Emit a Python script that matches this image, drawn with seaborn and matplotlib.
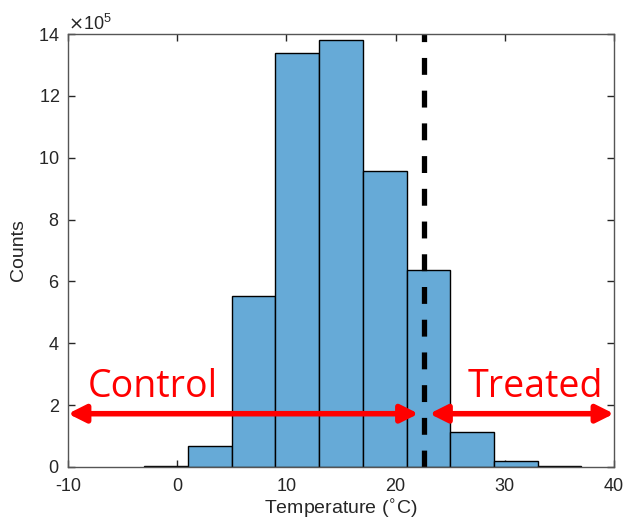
import numpy as np
import matplotlib.pyplot as plt
import seaborn as sns
from matplotlib.ticker import ScalarFormatter

# Histogram (bin edges in deg C, counts per bin)
bin_edges = [-3, 1, 5, 9, 13, 17, 21, 25, 29, 33, 37]
bin_counts = [2e3, 0.66e5, 5.53e5, 13.4e5, 13.8e5, 9.58e5, 6.36e5, 1.12e5, 0.19e5, 0.03e5]
threshold = 22.6
control_span = [-10, 22.1]
treated_span = [23.1, 40]
arrow_y = 1.72e5

bin_centers = [(a + b) / 2 for a, b in zip(bin_edges[:-1], bin_edges[1:])]

sns.set_style("white")
plt.rcParams['font.family'] = ['Liberation Sans', 'DejaVu Sans']
plt.rcParams['axes.unicode_minus'] = False

fig = plt.figure(figsize=(6.26, 5.24), dpi=100)
ax = fig.add_axes([0.1086, 0.109, 0.8722, 0.826])

sns.histplot(x=bin_centers, weights=bin_counts, bins=bin_edges, ax=ax,
             color="#66AAD7", alpha=1.0, edgecolor="black", linewidth=1.0)

ax.axvline(threshold, color="black", linestyle=(0, (3.2, 3.0)), linewidth=3.8)

# Control / treated arrows
for span in (control_span, treated_span):
    ax.annotate("", xy=(span[0], arrow_y), xytext=(span[1], arrow_y),
                arrowprops=dict(arrowstyle="<|-|>", color="red", lw=4, mutation_scale=26,
                                shrinkA=0, shrinkB=0))
ax.text(-2.2, 2.6e5, "Control", color="red", fontsize=27, ha="center", va="center",
        family=["Open Sans", "DejaVu Sans"])
ax.text(32.8, 2.6e5, "Treated", color="red", fontsize=27, ha="center", va="center",
        family=["Open Sans", "DejaVu Sans"])

ax.set_xlim(-10, 40)
ax.set_ylim(0, 14e5)
ax.set_xticks(np.arange(-10, 41, 10))
ax.set_yticks(np.arange(0, 14.1e5, 2e5))
fmt = ScalarFormatter(useMathText=True)
fmt.set_powerlimits((5, 5))
ax.yaxis.set_major_formatter(fmt)
ax.yaxis.get_offset_text().set_fontsize(13)
ax.yaxis.get_offset_text().set_color("#262626")

ax.set_xlabel("Temperature ($^{\\circ}$C)", fontsize=14, color="#262626", labelpad=2)
ax.set_ylabel("Counts", fontsize=14, color="#262626", labelpad=8)
ax.tick_params(direction="in", length=5, width=1, top=True, right=True,
               labelsize=13, colors="#262626", bottom=True, left=True)
ax.tick_params(axis="x", pad=8)
ax.tick_params(axis="y", pad=6)
for s in ax.spines.values():
    s.set_color("#555555")
    s.set_linewidth(1)

plt.savefig("out.png", dpi=100)
